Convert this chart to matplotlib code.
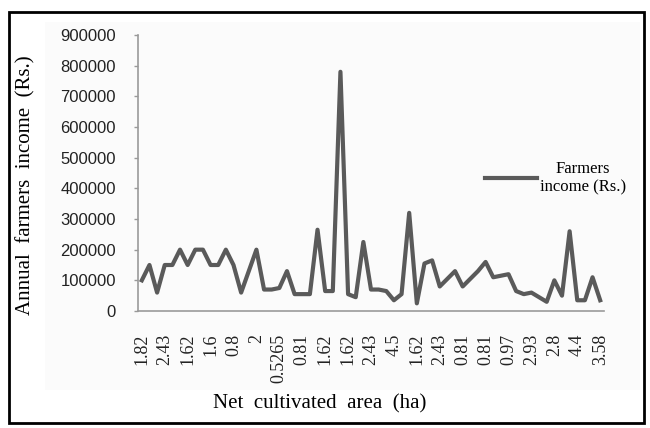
import matplotlib.pyplot as plt
from matplotlib.patches import Rectangle

# Annual income per farmer, in survey order
income = [100000, 150000, 60000, 150000, 150000, 200000, 150000, 200000, 200000, 150000,
          150000, 200000, 150000, 60000, 130000, 200000, 70000, 70000, 75000, 130000,
          55000, 55000, 55000, 265000, 65000, 65000, 780000, 55000, 45000, 225000,
          70000, 70000, 65000, 35000, 55000, 320000, 25000, 155000, 165000, 80000,
          105000, 130000, 80000, 105000, 130000, 160000, 110000, 115000, 120000, 65000,
          55000, 60000, 45000, 30000, 100000, 50000, 260000, 35000, 35000, 110000, 35000]
# net cultivated area, labelled for every third farmer
area_labels = ['1.82', '2.43', '1.62', '1.6', '0.8', '2', '0.5265', '0.81', '1.62', '1.62',
               '2.43', '4.5', '1.62', '2.43', '0.81', '0.81', '0.97', '2.93', '2.8', '4.4', '3.58']
label_step = 3
yticks = list(range(0, 900001, 100000))

W, H = 650, 428
fig = plt.figure(figsize=(W / 100, H / 100), dpi=100)

# light chart area and black outer frame
fig.patches.append(Rectangle((45 / W, 1 - 390 / H), 595 / W, 368 / H, transform=fig.transFigure,
                             facecolor='#fbfbfb', edgecolor='none', zorder=-2))
fig.patches.append(Rectangle((9 / W, 1 - 423 / H), 635 / W, 411 / H, transform=fig.transFigure,
                             fill=False, edgecolor='black', linewidth=2, zorder=5))

ax = fig.add_axes([138 / W, 1 - 311 / H, 466 / W, 276 / H])
ax.set_facecolor('none')

x = range(len(income))
ax.plot(x, income, color='#5a5a5a', lw=3.0, solid_joinstyle='round',
        label='Farmers\nincome (Rs.)')

ax.set_xlim(-0.5, len(income) - 0.5)
ax.set_ylim(0, 900000)

ax.set_yticks(yticks)
ax.set_yticklabels([str(v) for v in yticks], fontfamily='Liberation Sans', fontsize=12,
                   color='#222222')
ax.set_xticks(range(0, len(income), label_step))
ax.set_xticklabels(area_labels, rotation=90, fontfamily='Liberation Serif', fontsize=13,
                   va='top', ha='center', color='#222222')
ax.tick_params(axis='x', length=0, pad=16.5)
ax.tick_params(axis='y', length=3, color='#999999', width=1, pad=13)

for side in ['top', 'right']:
    ax.spines[side].set_visible(False)
for side in ['left', 'bottom']:
    ax.spines[side].set_color('#9a9a9a')
    ax.spines[side].set_linewidth(1.2)

ax.set_xlabel('Net  cultivated  area  (ha)', fontfamily='Liberation Serif', fontsize=15)
ax.xaxis.set_label_coords(0.389, -0.30)
ax.set_ylabel('Annual  farmers  income  (Rs.)', fontfamily='Liberation Serif', fontsize=15)
ax.yaxis.set_label_coords(-0.221, 0.4565)

leg = ax.legend(loc='center left', bbox_to_anchor=(485 / W, 1 - 178 / H),
                bbox_transform=fig.transFigure, frameon=False, handlelength=3.1,
                handletextpad=0.2, borderpad=0, borderaxespad=0,
                prop={'family': 'Liberation Serif', 'size': 12})
for t in leg.get_texts():
    t.set_multialignment('center')

fig.savefig('out.png', dpi=100)
